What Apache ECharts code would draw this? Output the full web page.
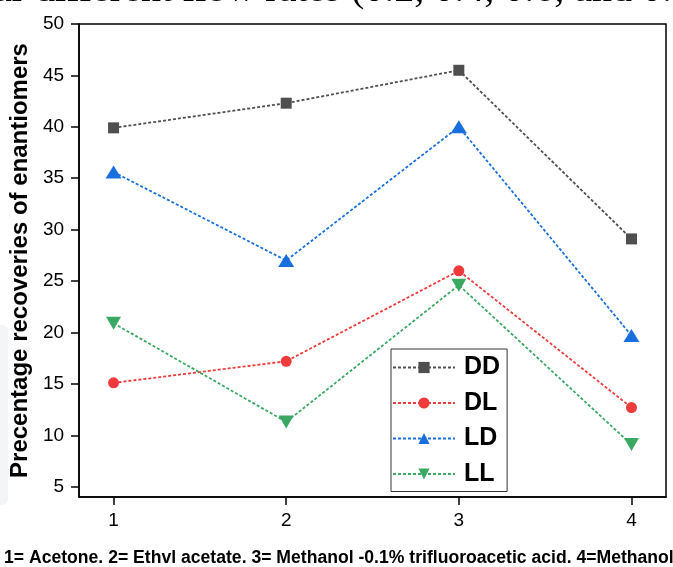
<!DOCTYPE html>
<html>
<head>
<meta charset="utf-8">
<script src="https://cdn.jsdelivr.net/npm/echarts@6/dist/echarts.min.js"></script>
<style>
  html, body { margin: 0; padding: 0; background: #fff; }
  #chart { width: 673px; height: 567px; }
</style>
</head>
<body>
<div id="chart"></div>
<script>
// solvent index on x axis
const solvents = [1, 2, 3, 4]
const yTicks = [5, 10, 15, 20, 25, 30, 35, 40, 45, 50]

const seriesNames = ['DD', 'DL', 'LD', 'LL']
const ddValues = [39.9, 42.3, 45.5, 29.1]
const dlValues = [15.1, 17.2, 26.0, 12.7]
const ldValues = [35.6, 27.0, 40.0, 19.7]
const llValues = [20.9, 11.3, 24.6, 9.1]

const chart = echarts.init(document.getElementById('chart'))

function makeSeries(name, values, color, symbol, size) {
  return {
    name: name,
    type: 'line',
    data: values.map((v, i) => [solvents[i], v]),
    symbol: symbol,
    symbolSize: size,
    itemStyle: { color: color },
    lineStyle: { color: color, width: 1.8, type: [3, 2] },
    emphasis: { disabled: true },
    z: 3
  }
}

const axisFont = { fontFamily: 'Arial, "Liberation Sans", sans-serif', fontSize: 19, color: '#000' }

chart.setOption({
  animation: false,
  textStyle: { fontFamily: 'Arial, "Liberation Sans", sans-serif' },
  grid: {
    left: 79,
    right: 7,
    top: 24,
    bottom: 70,
    show: true,
    borderColor: '#000',
    borderWidth: 1.5,
    backgroundColor: 'transparent'
  },
  xAxis: {
    type: 'value',
    min: 0.8,
    max: 4.2,
    axisLine: { show: true, onZero: false, lineStyle: { color: '#000', width: 1.5 } },
    axisTick: { show: true, inside: false, length: 8, customValues: solvents, lineStyle: { color: '#000', width: 1.5 } },
    axisLabel: Object.assign({ margin: 14, customValues: solvents }, axisFont),
    splitLine: { show: false }
  },
  yAxis: {
    type: 'value',
    min: 4,
    max: 50,
    name: 'Precentage recoveries of enantiomers',
    nameLocation: 'middle',
    nameGap: 41,
    nameTextStyle: { fontSize: 24, fontWeight: 'bold', color: '#000' },
    axisLine: { show: true, onZero: false, lineStyle: { color: '#000', width: 1.5 } },
    axisTick: { show: true, inside: false, length: 8, customValues: yTicks, lineStyle: { color: '#000', width: 1.5 } },
    axisLabel: Object.assign({ margin: 15, customValues: yTicks }, axisFont),
    splitLine: { show: false }
  },
  legend: {
    orient: 'vertical',
    left: 391,
    top: 349,
    padding: [6, 7, 5, 1],
    itemGap: 10.5,
    itemWidth: 62,
    itemHeight: 14,
    borderColor: '#333',
    borderWidth: 1,
    backgroundColor: '#fff',
    textStyle: { fontSize: 25, fontWeight: 'bold', color: '#000', padding: [0, 0, 0, 4] },
    data: seriesNames
  },
  graphic: [
    {
      type: 'text',
      left: -6,
      top: -30,
      style: {
        text: 'ar different flow rates (0.2, 0.4, 0.6, and 0.8',
        font: '40px "Liberation Serif", "DejaVu Serif", serif',
        fill: '#000'
      }
    },
    {
      type: 'text',
      left: 4,
      top: 549,
      style: {
        text: '1= Acetone. 2= Ethvl acetate. 3= Methanol -0.1% trifluoroacetic acid. 4=Methanol',
        font: 'bold 17.6px Arial, "Liberation Sans", sans-serif',
        fill: '#000'
      }
    },
    {
      type: 'rect',
      shape: { x: -10, y: 325, width: 18, height: 180, r: 6 },
      style: { fill: '#f4f5f7' },
      z: -1
    }
  ],
  series: [
    makeSeries('DD', ddValues, '#4f4f4f', 'rect', 11),
    makeSeries('DL', dlValues, '#ef3b3b', 'circle', 11),
    makeSeries('LD', ldValues, '#1a6fdf', 'triangle', [16, 13]),
    makeSeries('LL', llValues, '#3aa863', 'path://M0,0 L10,0 L5,9 Z', [15, 13])
  ]
})
</script>
</body>
</html>
